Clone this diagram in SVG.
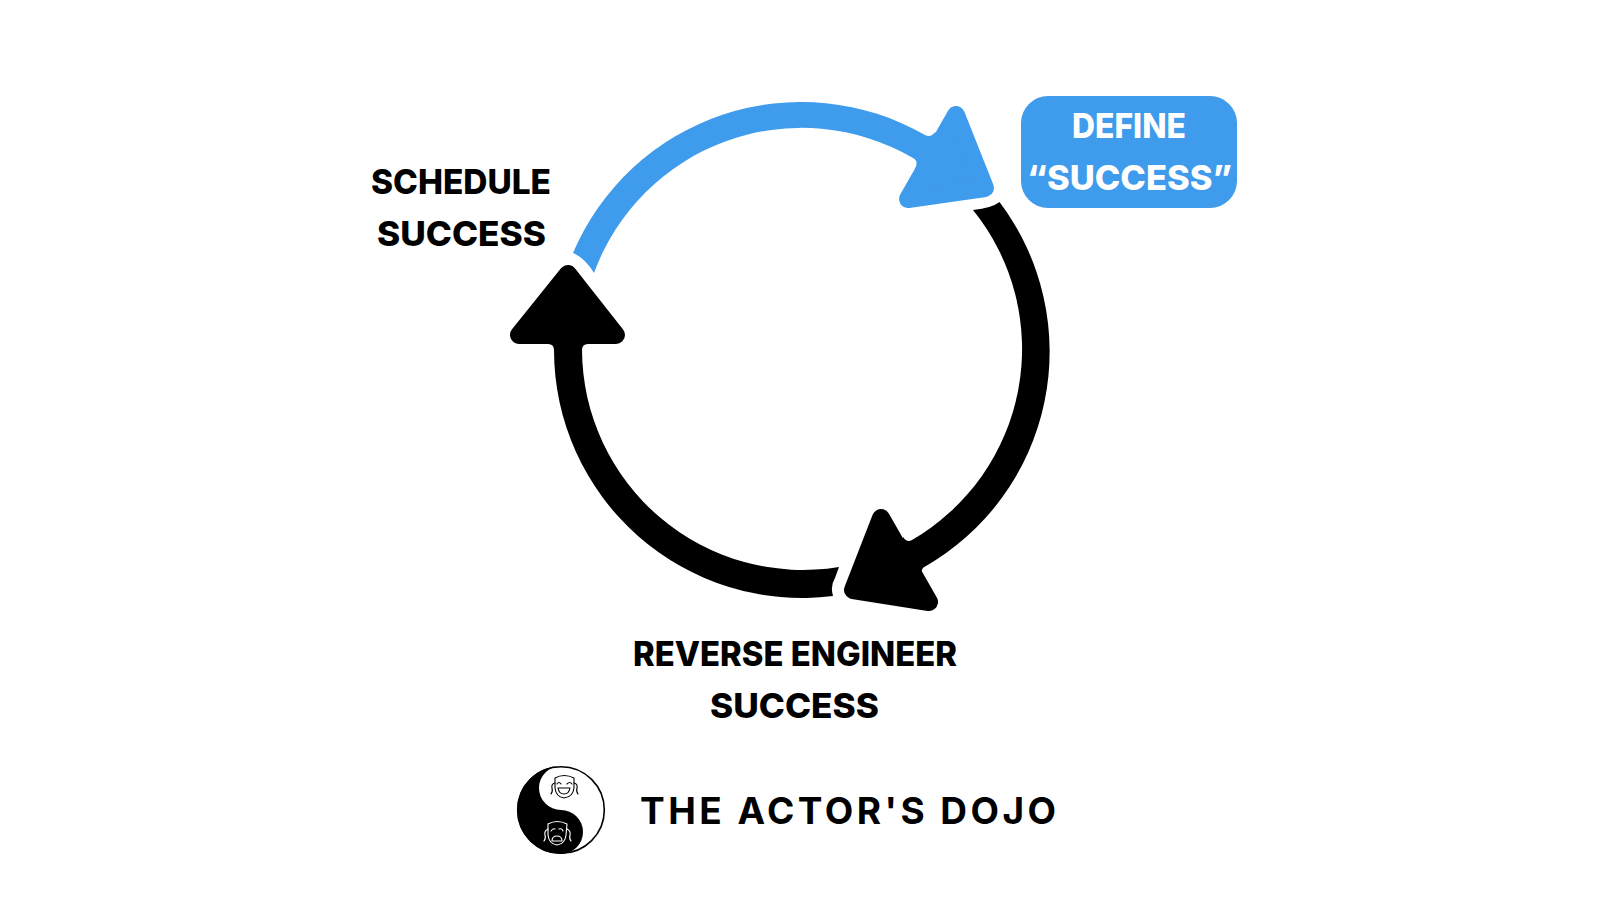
<svg xmlns="http://www.w3.org/2000/svg" width="1600" height="900" viewBox="0 0 1600 900">
<style>
.t{font-family:"Inter","Liberation Sans",sans-serif;font-weight:800;font-size:34.5px}
.k{fill:#000}.w{fill:#fff}.b{fill:#3f9bec}
.hk{fill:#000;stroke:#000;stroke-width:18;stroke-linejoin:round}
.hb{fill:#3f9bec;stroke:#3f9bec;stroke-width:18;stroke-linejoin:round}
.m{fill:none;stroke-width:1.1;stroke-linecap:round;stroke-linejoin:round}
</style>
<rect width="1600" height="900" fill="#fff"/>
<g id="connectors">
<g id="arrow-blue">
<path class="b" d="M573 253A248 248 0 0 1 925 135Q931 138 935 132L950 160L915 169Q919 161 913 158A221 221 0 0 0 594 273Q585 258 573 253Z"/>
<polygon class="hb" points="956,115 985,188 908,199"/>
</g>
<g id="arrow-right">
<path class="k" d="M973 210Q992 208 999.500 202A248 248 0 0 1 923.500 567.500Q920 571 923 574L890 570L903 537Q907 543 912 540A221 221 0 0 0 973 210Z"/>
<polygon class="hk" points="881,518 853,590 929,602"/>
</g>
<g id="arrow-left">
<path class="k" d="M839 567A221 221 0 0 1 582 350Q582 344 588 344L570 320L548 344Q554 344 554 350A248 248 0 0 0 833 596Q830 586 835 578Z"/>
<polygon class="hk" points="568,274 519,335 616,335"/>
</g>
</g>
<g id="node-define">
<rect class="b" x="1021" y="96" width="216" height="112" rx="27"/>
<text class="t w" x="1072" y="138" textLength="114" lengthAdjust="spacingAndGlyphs">DEFINE</text>
<text class="t w" x="1027" y="190" textLength="205" lengthAdjust="spacingAndGlyphs">“SUCCESS”</text>
</g>
<g id="node-schedule">
<text class="t k" x="371" y="193.500" textLength="180" lengthAdjust="spacingAndGlyphs">SCHEDULE</text>
<text class="t k" x="377" y="245.500" textLength="169" lengthAdjust="spacingAndGlyphs">SUCCESS</text>
</g>
<g id="node-reverse">
<text class="t k" x="633" y="666" textLength="324" lengthAdjust="spacingAndGlyphs">REVERSE ENGINEER</text>
<text class="t k" x="710" y="718" textLength="169" lengthAdjust="spacingAndGlyphs">SUCCESS</text>
</g>
<g id="logo">
<circle cx="561" cy="810" r="43.300" fill="#fff" stroke="#000" stroke-width="1.600"/>
<path class="k" d="M561 766A44 44 0 0 0 561 854A22 22 0 0 0 561 810A22 22 0 0 1 561 766Z"/>
<g id="mask-happy" class="m" stroke="#000">
<path d="M555 778Q564 773 574 778L574 788Q573 797 564 798Q556 797 555 788Z"/>
<path d="M557 784Q559 781 561 784M567 784Q570 781 572 784"/>
<path d="M558 788H570Q569 794 564 794Q559 794 558 788Z"/>
<path d="M555 783Q551 784 552 788Q553 792 551 794M574 783Q578 784 577 788Q576 792 578 794"/>
</g>
<g id="mask-sad" class="m" stroke="#fff">
<path d="M548 824Q557 819 567 824L566 835Q565 844 557 845Q549 844 548 835Z"/>
<path d="M551 831Q553 828 555 829M559 829Q562 828 563 831"/>
<path d="M552 841Q552 836 557 836Q562 836 562 841Z"/>
<path d="M548 829Q544 831 545 835Q546 839 544 841M567 829Q571 831 570 835Q569 839 571 841"/>
</g>
</g>
<text id="brand" x="640" y="823.500" textLength="416" lengthAdjust="spacing" style="font-family:Inter,'Liberation Sans',sans-serif;font-weight:700;font-size:37px" class="k">THE ACTOR'S DOJO</text>
</svg>
